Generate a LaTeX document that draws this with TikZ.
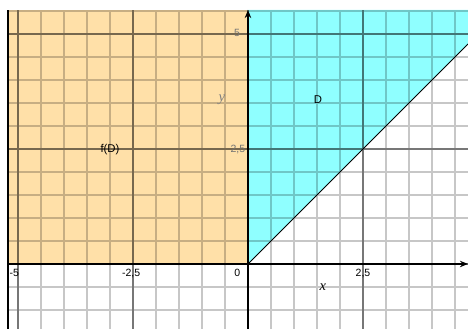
\documentclass[tikz,border=0pt]{standalone}
\usepackage{fontspec}
\setmainfont{Liberation Sans}
\newfontfamily\axisfont{Liberation Serif}
\usetikzlibrary{arrows.meta}
\definecolor{regionD}{RGB}{143,255,255}
\definecolor{regionF}{RGB}{255,224,168}
\tikzset{
minorgrid/.style={draw=black, line width=0.7pt, opacity=0.22},
majorgrid/.style={draw=black, line width=0.8pt, opacity=0.4},
axis/.style={draw=black, line width=0.8pt, -{Stealth[length=5pt,width=4pt]}},
ticklabel/.style={font=\fontsize{6.5}{7}\selectfont, inner sep=0pt},
axislabel/.style={font=\axisfont\itshape\fontsize{9}{10}\selectfont, inner sep=0pt},
regionlabel/.style={font=\fontsize{7}{8}\selectfont, inner sep=0pt}
}

\begin{document}
\begin{tikzpicture}
\useasboundingbox (-5.391,-1.413) rectangle (4.783,5.739);
\coordinate (O) at (0,0);
\coordinate (top) at (0,5.522);
\coordinate (right) at (4.783,0);
\coordinate (corner) at (4.783,4.783);

\fill[regionF] (-5.217,0) rectangle (top);
\fill[regionD] (O) -- (corner) -- (4.783,5.522) -- (top) -- cycle;

\draw[minorgrid] (-5.217,-1.413) grid[step=0.5] (4.783,5.522);
\draw[majorgrid] (-5.217,-1.413) grid[step=2.5] (4.783,5.522);
\draw[black, line width=0.7pt] (-5.217,-1.413) -- (-5.217,5.522);

\draw[black, line width=0.5pt] (O) -- (corner);
\draw[axis] (-5.217,0) -- (right);
\draw[axis] (0,-1.413) -- (top);
\foreach \t in {-5,-4.5,...,4.6}
  \draw[line width=0.8pt] (\t,-0.03) -- (\t,0.03);
\foreach \t in {-1,-0.5,...,5.1}
  \draw[line width=0.8pt] (-0.03,\t) -- (0.03,\t);

\node[ticklabel] (xm5) at (-5.08,-0.2) {-5};
\node[ticklabel] (xm25) at (-2.54,-0.2) {-2,5};
\node[ticklabel] (x0) at (-0.23,-0.2) {0};
\node[ticklabel] (x25) at (2.5,-0.2) {2,5};
\node[ticklabel, text=black!55] (y25) at (-0.22,2.48) {2,5};
\node[ticklabel, text=black!55] (y5) at (-0.24,5.02) {5};
\node[axislabel] (xlab) at (1.63,-0.5) {x};
\node[axislabel, text=black!50] (ylab) at (-0.57,3.57) {y};

\node[regionlabel] (D) at (1.52,3.57) {D};
\node[regionlabel] (fD) at (-3.0,2.48) {f(D)};
\end{tikzpicture}
\end{document}
